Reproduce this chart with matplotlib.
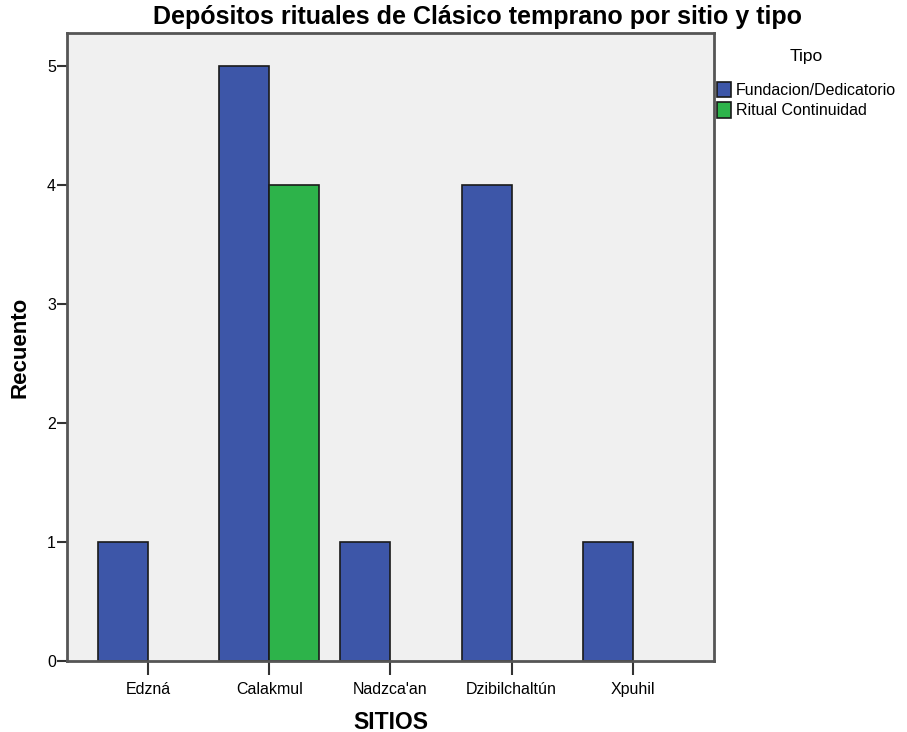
import matplotlib.pyplot as plt
import numpy as np

plt.rcParams['font.family'] = ['Liberation Sans', 'DejaVu Sans']

# recuento de depositos por sitio
sitios = ['Edzná', 'Calakmul', "Nadzca'an", 'Dzibilchaltún', 'Xpuhil']
fundacion = [1, 5, 1, 4, 1]
continuidad = [0, 4, 0, 0, 0]
tipos = ['Fundacion/Dedicatorio', 'Ritual Continuidad']

azul = '#3d56a8'
verde = '#2db34a'

fig = plt.figure(figsize=(9.07, 7.32), dpi=100)
ax = fig.add_axes([0.074, 0.097, 0.713, 0.858])
ax.set_facecolor('#f0f0f0')

x = np.arange(len(sitios))
w = 0.413
b1 = ax.bar(x - w / 2, fundacion, w, color=azul, edgecolor='#1a1a1a', linewidth=1.2)
# solo las barras no vacias de la segunda serie
m = np.array(continuidad) > 0
b2 = ax.bar(x[m] + w / 2, np.array(continuidad)[m], w, color=verde,
            edgecolor='#1a1a1a', linewidth=1.2)

ax.set_xlim(-0.669, 4.669)
ax.set_ylim(0, 5.28)
ax.set_yticks(range(0, 6))
ax.set_xticks(x)
ax.set_xticklabels(sitios, fontsize=11.5)
ax.tick_params(axis='y', labelsize=11.5, length=7, width=1.5, color='#333333', pad=1)
ax.tick_params(axis='x', length=10, width=1.5, color='#333333', pad=5)
for s in ax.spines.values():
    s.set_color('#555555')
    s.set_linewidth(2)

ax.set_xlabel('SITIOS', fontsize=16.5, fontweight='bold', labelpad=10)
ax.set_ylabel('Recuento', fontsize=16, fontweight='bold', labelpad=12)
fig.text(0.527, 0.977, 'Depósitos rituales de Clásico temprano por sitio y tipo',
         ha='center', va='center', fontsize=18, fontweight='bold')

leg = fig.legend([b1, b2], tipos, title='Tipo', loc='upper left',
                 bbox_to_anchor=(0.791, 0.933), frameon=False, fontsize=11.5,
                 title_fontsize=12.5, handlelength=0.85, handleheight=1.1,
                 handletextpad=0.3, labelspacing=0.25, borderaxespad=0,
                 borderpad=0)
leg._legend_box.align = 'center'
leg._legend_box.sep = 13

fig.savefig('out.png', dpi=100)
